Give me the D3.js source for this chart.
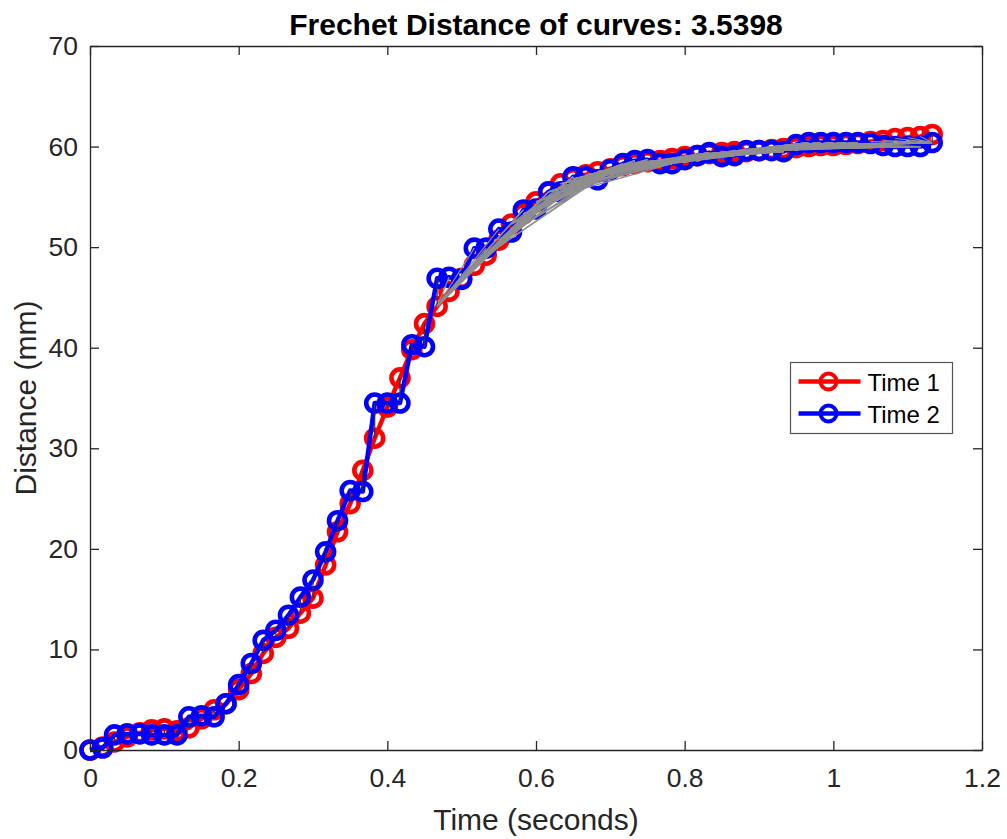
<!DOCTYPE html>
<html>
<head>
<meta charset="utf-8">
<script src="https://cdn.jsdelivr.net/npm/d3@7"></script>
<style>
	body { margin:0; background:#fff; }
	svg text { font-family:"Liberation Sans", Arial, Helvetica, sans-serif; }
</style>
</head>
<body>
<div id="idChart"></div>
<script>
// sample times (seconds), both curves sampled at the same frames
var aTime = [0.000,0.017,0.033,0.050,0.067,0.083,0.100,0.117,0.133,0.150,
	0.167,0.183,0.200,0.217,0.233,0.250,0.267,0.283,0.300,0.317,
	0.333,0.350,0.367,0.383,0.400,0.417,0.433,0.450,0.467,0.483,
	0.500,0.517,0.533,0.550,0.567,0.583,0.600,0.617,0.633,0.650,
	0.667,0.683,0.700,0.717,0.733,0.750,0.767,0.783,0.800,0.817,
	0.833,0.850,0.867,0.883,0.900,0.917,0.933,0.950,0.967,0.983,
	1.000,1.017,1.033,1.050,1.067,1.083,1.100,1.117,1.133];

// Time 1 distance (mm)
var aTime1 = [0.0,0.3,0.8,1.3,1.7,2.0,2.1,1.9,2.2,3.1,
	4.0,4.6,6.0,7.6,9.6,11.2,12.1,13.6,15.1,18.4,
	21.7,24.5,27.8,31.0,34.1,37.0,39.8,42.4,44.1,45.6,
	46.9,48.2,49.2,50.7,52.3,53.3,54.5,55.5,56.3,56.8,
	57.2,57.5,57.8,58.1,58.3,58.5,58.6,58.8,59.0,59.1,
	59.3,59.4,59.5,59.5,59.6,59.7,59.8,59.9,60.0,60.1,
	60.1,60.2,60.3,60.5,60.6,60.8,60.9,61.0,61.2];

// Time 2 distance (mm)
var aTime2 = [0.0,0.2,1.5,1.6,1.6,1.5,1.5,1.5,3.3,3.4,
	3.3,4.6,6.5,8.6,10.9,11.9,13.4,15.2,16.9,19.7,
	22.8,25.8,25.7,34.5,34.5,34.5,40.3,40.1,46.9,47.0,
	46.8,49.9,49.9,51.8,51.5,53.7,53.8,55.5,55.5,57.0,
	57.0,56.7,57.7,58.3,58.6,58.7,58.3,58.3,58.7,59.1,
	59.4,59.0,59.1,59.6,59.6,59.6,59.5,60.2,60.4,60.4,
	60.4,60.4,60.4,60.3,60.1,60.0,60.0,60.0,60.4];

// coupling fans: [index in Time 1, first index in Time 2, last index in Time 2]
var aCouplingFans = [[0,0,0],[1,1,1],[2,2,2],[3,3,3],[4,4,4],[5,5,5],[6,6,6],[7,7,7],
	[8,8,8],[9,9,9],[10,10,10],[11,11,11],[12,12,12],[13,13,13],[14,14,14],[15,15,15],
	[16,16,16],[17,17,17],[18,18,18],[19,19,19],[20,20,20],[21,21,21],[22,22,22],[23,23,23],
	[24,24,24],[25,25,25],[26,26,26],[27,27,27],[28,28,37],
	[29,34,38],[30,35,39],[31,36,40],[32,37,42],[33,38,43],[34,39,44],[35,40,45],[36,42,47],
	[37,43,48],[38,44,49],[39,45,50],[40,46,52],[41,47,53],[42,48,54],[43,49,55],[44,50,56],
	[45,51,57],[46,52,58],[47,53,59],[48,54,60],[49,55,61],[50,56,62],[51,57,63],[52,58,64],
	[53,59,65],[54,60,66],[55,61,67],[56,62,68],[57,63,68],[58,64,68],[59,65,68],[60,66,68],
	[61,67,68],[62,68,68],[63,68,68],[64,68,68],[65,68,68],[66,68,68],[67,68,68],[68,68,68]];

var aXTicks = [0,0.2,0.4,0.6,0.8,1,1.2];
var aYTicks = [0,10,20,30,40,50,60,70];
var aSeriesNames = ["Time 1","Time 2"];
var aSeriesColors = ["#ff0000","#0000ff"];

var sTitle = "Frechet Distance of curves: 3.5398";
var sXLabel = "Time (seconds)";
var sYLabel = "Distance (mm)";

var iWidth = 1007, iHeight = 839;
var iLeft = 90, iRight = 982, iTop = 46, iBottom = 750;
var sAxisColor = "#262626";

var myCanvas = d3.select("#idChart").append("svg")
	.attr("width", iWidth)
	.attr("height", iHeight);

var xScale = d3.scaleLinear().domain([0,1.2]).range([iLeft,iRight]);
var yScale = d3.scaleLinear().domain([0,70]).range([iBottom,iTop]);

// curves
var myLine = d3.line()
	.x(function(d,i){ return xScale(aTime[i]); })
	.y(function(d){ return yScale(d); });

var aSeries = [aTime1, aTime2];
aSeries.forEach(function(aValues, iSeries) {
	var myGroup = myCanvas.append("g").attr("class","Series");
	myGroup.append("path")
		.datum(aValues)
		.attr("d", myLine)
		.attr("fill","none")
		.attr("stroke", aSeriesColors[iSeries])
		.attr("stroke-width", 4.5)
		.attr("stroke-linejoin","round");
	myGroup.selectAll("circle")
		.data(aValues)
		.enter().append("circle")
			.attr("cx", function(d,i){ return xScale(aTime[i]); })
			.attr("cy", function(d){ return yScale(d); })
			.attr("r", 8.5)
			.attr("fill","none")
			.attr("stroke", aSeriesColors[iSeries])
			.attr("stroke-width", 4.6);
});

// coupling lines, expanded from the fans
var aCoupling = [];
aCouplingFans.forEach(function(aFan) {
	for (var j = aFan[1]; j <= aFan[2]; j++) aCoupling.push([aFan[0], j]);
});

myCanvas.append("g").selectAll("line")
	.data(aCoupling)
	.enter().append("line")
		.attr("x1", function(p){ return xScale(aTime[p[0]]); })
		.attr("y1", function(p){ return yScale(aTime1[p[0]]); })
		.attr("x2", function(p){ return xScale(aTime[p[1]]); })
		.attr("y2", function(p){ return yScale(aTime2[p[1]]); })
		.attr("stroke", function(p){ return p[0]==p[1] ? "#333333" : "#8f8f8f"; })
		.attr("stroke-width", 1.2);

// axes (box with inward ticks)
function fStyleAxis(myAxisGroup)
{
	myAxisGroup.selectAll("path,line").attr("stroke", sAxisColor).attr("stroke-width", 1.3);
	myAxisGroup.selectAll("text")
		.attr("fill", sAxisColor)
		.style("font-size","26.5px");
	myAxisGroup.attr("font-family", null).attr("font-size", null);
}

myCanvas.append("g")
	.attr("transform","translate(0,"+iBottom+")")
	.call(d3.axisBottom(xScale).tickValues(aXTicks).tickSize(-9).tickSizeOuter(0).tickPadding(18).tickFormat(d3.format("~g")))
	.call(fStyleAxis);

myCanvas.append("g")
	.attr("transform","translate(0,"+iTop+")")
	.call(d3.axisTop(xScale).tickValues(aXTicks).tickSize(-9).tickSizeOuter(0).tickFormat(""))
	.call(fStyleAxis);

myCanvas.append("g")
	.attr("transform","translate("+iLeft+",0)")
	.call(d3.axisLeft(yScale).tickValues(aYTicks).tickSize(-9).tickSizeOuter(0).tickPadding(12))
	.call(fStyleAxis);

myCanvas.append("g")
	.attr("transform","translate("+iRight+",0)")
	.call(d3.axisRight(yScale).tickValues(aYTicks).tickSize(-9).tickSizeOuter(0).tickFormat(""))
	.call(fStyleAxis);

// title and labels
myCanvas.append("text")
	.attr("x", (iLeft+iRight)/2)
	.attr("y", 35)
	.attr("text-anchor","middle")
	.style("font-size","30px")
	.style("font-weight","bold")
	.attr("fill","#000")
	.text(sTitle);

myCanvas.append("text")
	.attr("x", (iLeft+iRight)/2)
	.attr("y", 830)
	.attr("text-anchor","middle")
	.style("font-size","30px")
	.attr("fill", sAxisColor)
	.text(sXLabel);

myCanvas.append("text")
	.attr("transform","translate(36,"+((iTop+iBottom)/2)+") rotate(-90)")
	.attr("text-anchor","middle")
	.style("font-size","30px")
	.attr("fill", sAxisColor)
	.text(sYLabel);

// legend
var myLegend = myCanvas.append("g").attr("transform","translate(790.5,362.5)");
myLegend.append("rect")
	.attr("width",162).attr("height",71)
	.attr("fill","#fff")
	.attr("stroke","#555")
	.attr("stroke-width",1.2);

var myLegendRows = myLegend.selectAll(".LegendRow")
	.data(aSeriesNames)
	.enter().append("g")
		.attr("class","LegendRow")
		.attr("transform", function(d,i){ return "translate(0,"+(19+i*32)+")"; });

myLegendRows.append("line")
	.attr("x1",8).attr("x2",70)
	.attr("stroke", function(d,i){ return aSeriesColors[i]; })
	.attr("stroke-width",4.5);
myLegendRows.append("circle")
	.attr("cx",38).attr("r",8)
	.attr("fill","none")
	.attr("stroke", function(d,i){ return aSeriesColors[i]; })
	.attr("stroke-width",4);
myLegendRows.append("text")
	.attr("x",77).attr("y",9)
	.style("font-size","24px")
	.attr("fill","#000")
	.text(function(d){ return d; });
</script>
</body>
</html>
